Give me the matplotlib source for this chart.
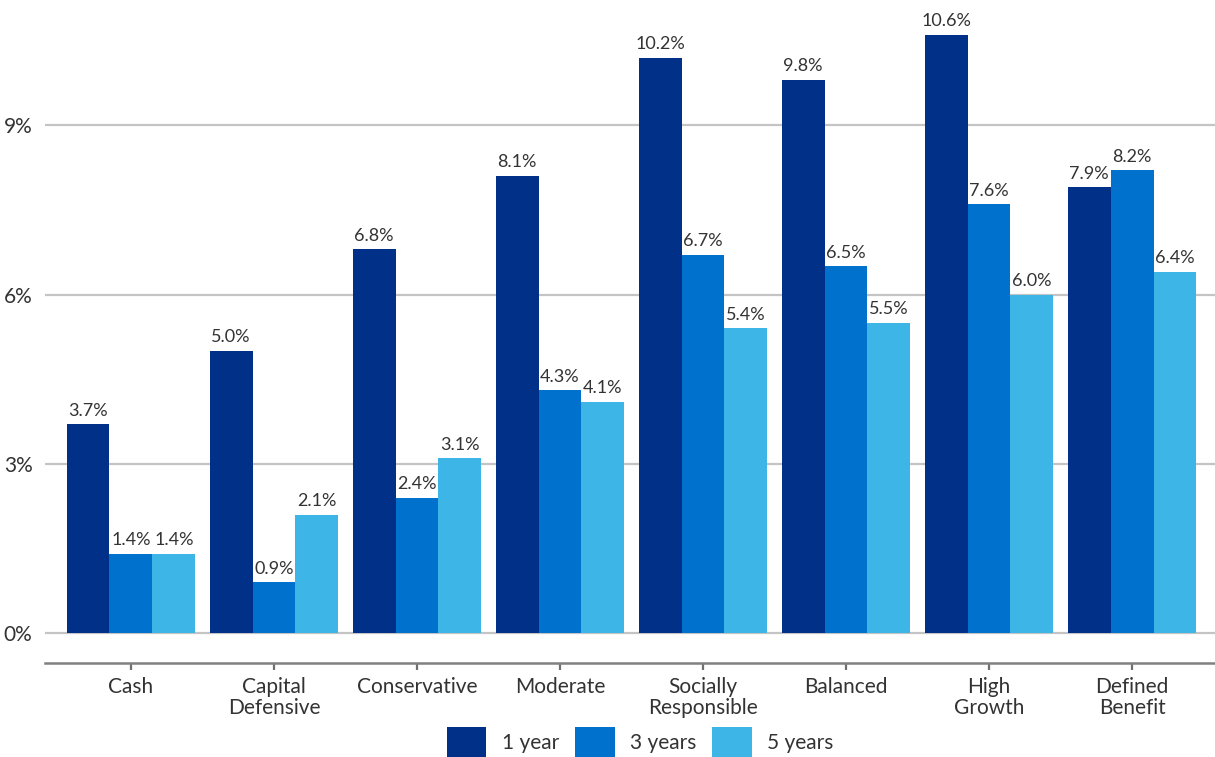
import matplotlib.pyplot as plt
import numpy as np

categories = ["Cash", "Capital\nDefensive", "Conservative", "Moderate",
              "Socially\nResponsible", "Balanced", "High\nGrowth", "Defined\nBenefit"]
series_names = ["1 year", "3 years", "5 years"]
one_year = [3.7, 5.0, 6.8, 8.1, 10.2, 9.8, 10.6, 7.9]
three_years = [1.4, 0.9, 2.4, 4.3, 6.7, 6.5, 7.6, 8.2]
five_years = [1.4, 2.1, 3.1, 4.1, 5.4, 5.5, 6.0, 6.4]
yticks = [0, 3, 6, 9]

colors = ["#003087", "#0072CE", "#3DB5E6"]
text_color = "#333333"

plt.rcParams['font.family'] = ['Lato', 'DejaVu Sans']

fig = plt.figure(figsize=(12.15, 7.57), dpi=100)
ax = fig.add_axes([45 / 1215, 94 / 757, 1 - 45 / 1215, 1 - 94 / 757])

x = np.arange(len(categories))
width = 0.3
for i, (vals, name) in enumerate(zip([one_year, three_years, five_years], series_names)):
    pos = x + (i - 1) * width
    ax.bar(pos, vals, width, color=colors[i], label=name, zorder=3)
    for p, v in zip(pos, vals):
        ax.text(p, v + 0.1, f"{v:.1f}%", ha='center', va='bottom',
                fontsize=13, color=text_color, zorder=4)

ax.set_xlim(-0.601, 7.58)
ax.set_ylim(-0.53, 11.22)
ax.set_yticks(yticks)
ax.set_yticklabels([f"{t}%" for t in yticks], fontsize=15, color=text_color)
for t in yticks:
    ax.axhline(t, color="#c4c4c4", lw=1.6, zorder=1)

ax.set_xticks(x)
ax.set_xticklabels(categories, fontsize=15, color=text_color, linespacing=1.05)
ax.tick_params(axis='y', length=0, pad=9)
ax.tick_params(axis='x', length=5, width=1.6, color="#707070", pad=5)

for s in ['top', 'right', 'left']:
    ax.spines[s].set_visible(False)
ax.spines['bottom'].set_color("#808080")
ax.spines['bottom'].set_linewidth(1.8)

fig.legend(loc='center', bbox_to_anchor=(0.527, 1 - 742 / 757), ncol=3,
           frameon=False, fontsize=15, handlelength=1.9, handleheight=1.8,
           columnspacing=0.75, handletextpad=0.75, labelcolor=text_color,
           borderaxespad=0, borderpad=0)

fig.savefig("out.png", dpi=100)
